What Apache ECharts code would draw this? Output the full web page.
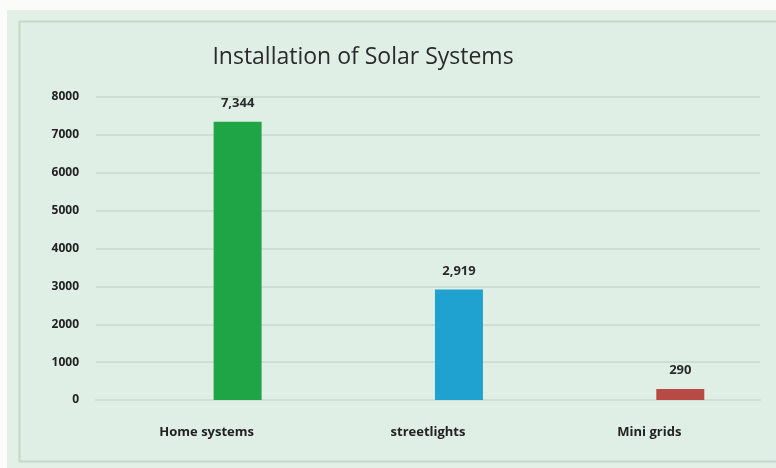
<!DOCTYPE html>
<html>
<head>
<meta charset="utf-8">
<style>
  html, body { margin: 0; padding: 0; background: #fbfcf9; }
  #chart { width: 776px; height: 468px; }
</style>
<script src="https://cdn.jsdelivr.net/npm/echarts@6/dist/echarts.min.js"></script>
</head>
<body>
<div id="chart"></div>
<script>
// Installed solar systems by type
const categories = ['Home systems', 'streetlights', 'Mini grids'];
const installations = [7344, 2919, 290];
const barColors = ['#1fa545', '#1fa2cf', '#b84a45'];
// empty leading slot so each bar sits right of its category centre
const spacer = [null, null, null];
const yTicks = { min: 0, max: 8000, interval: 1000 };

const chart = echarts.init(document.getElementById('chart'), null, { renderer: 'canvas' });

const txtFont = '"Open Sans", "Noto Sans", sans-serif';

chart.setOption({
  backgroundColor: '#fbfcf9',
  animation: false,
  graphic: [
    {
      type: 'rect', z: -10, silent: true,
      shape: { x: 7, y: 10, width: 780, height: 470 },
      style: { fill: '#e2f0e6' }
    },
    {
      type: 'rect', z: -9, silent: true,
      shape: { x: 19.5, y: 21.5, width: 780, height: 440 },
      style: { fill: '#e0efe5', stroke: '#c6d8cc', lineWidth: 2 }
    }
  ],
  title: {
    text: 'Installation of Solar Systems',
    left: 358, top: 41, textAlign: 'center',
    textStyle: { fontFamily: txtFont, fontSize: 23, fontWeight: 'normal', color: '#2a2a2a' }
  },
  grid: { left: 96, right: 16, top: 97, bottom: 68 },
  xAxis: {
    type: 'category',
    data: categories,
    axisLine: { show: true, lineStyle: { color: '#cddfd3', width: 2 } },
    axisTick: { show: false },
    axisLabel: {
      margin: 26, color: '#222', fontSize: 13, fontWeight: 'bold', fontFamily: txtFont
    }
  },
  yAxis: {
    type: 'value',
    min: yTicks.min, max: yTicks.max, interval: yTicks.interval,
    axisLine: { show: false },
    axisTick: { show: false },
    splitLine: { lineStyle: { color: '#cddfd3', width: 2 } },
    axisLabel: {
      margin: 17, color: '#222', fontSize: 12, fontWeight: 'bold', fontFamily: txtFont,
      formatter: v => String(v)
    }
  },
  series: [
    {
      type: 'bar', data: spacer, barWidth: 48, barGap: '29%', silent: true
    },
    {
      type: 'bar',
      barWidth: 48,
      data: installations.map((v, i) => ({ value: v, itemStyle: { color: barColors[i] } })),
      label: {
        show: true, position: 'top', distance: 12,
        color: '#2a2a2a', fontSize: 13, fontWeight: 'bold', fontFamily: txtFont,
        formatter: p => p.value.toLocaleString('en-US')
      }
    }
  ]
});
</script>
</body>
</html>
